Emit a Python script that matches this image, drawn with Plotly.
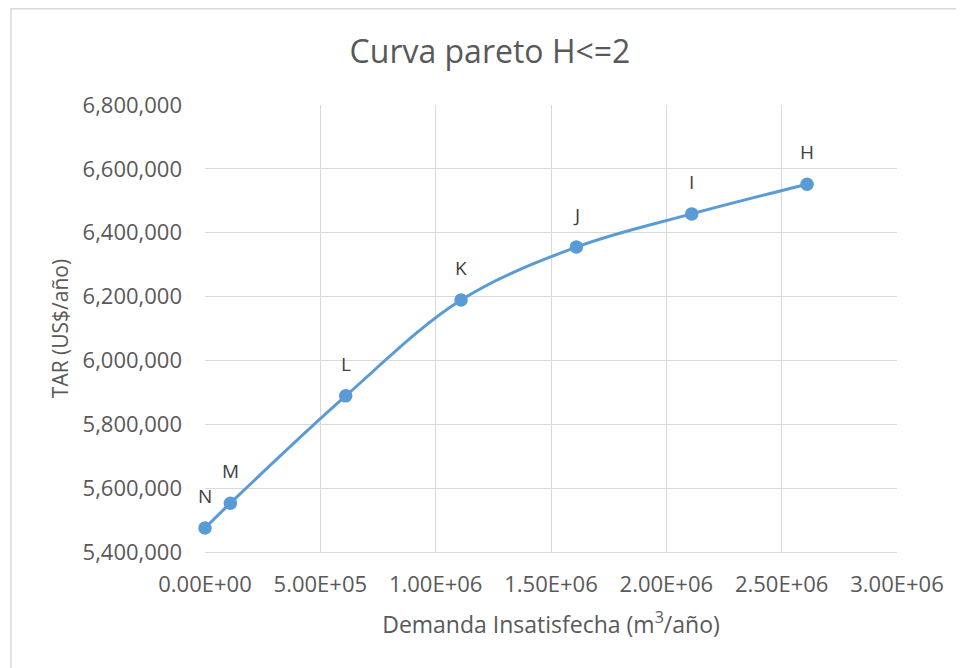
import plotly.graph_objects as go

# Data
labels = ["N", "M", "L", "K", "J", "I", "H"]
demanda = [0, 110000, 610000, 1110000, 1610000, 2110000, 2610000]
tar = [5475000, 5553000, 5889000, 6189000, 6355000, 6459000, 6552000]

x_tickvals = [0, 500000, 1000000, 1500000, 2000000, 2500000, 3000000]
x_ticktext = ["0.00E+00", "5.00E+05", "1.00E+06", "1.50E+06", "2.00E+06", "2.50E+06", "3.00E+06"]
y_tickvals = [5400000, 5600000, 5800000, 6000000, 6200000, 6400000, 6600000, 6800000]
y_ticktext = ["5,400,000", "5,600,000", "5,800,000", "6,000,000", "6,200,000", "6,400,000", "6,600,000", "6,800,000"]

FONT = "Open Sans"
GRAY = "#595959"
BLUE = "#5b9bd5"
GRID = "#d9d9d9"

W, H = 956, 660
ML, MT, PW, PH = 197, 97, 692, 447

fig = go.Figure()
fig.add_trace(go.Scatter(
    x=demanda, y=tar, mode="lines+markers",
    line=dict(color=BLUE, width=3, shape="spline", smoothing=1.0),
    marker=dict(color=BLUE, size=13.5),
    cliponaxis=False,
    hoverinfo="x+y", showlegend=False,
))

for lx, ly, lt in zip(demanda, tar, labels):
    fig.add_annotation(x=lx, y=ly, text=lt, showarrow=False, yshift=32,
                       font=dict(family=FONT, size=19, color="#404040"))

fig.update_layout(
    width=W, height=H,
    margin=dict(l=ML, r=W - ML - PW, t=MT, b=H - MT - PH, pad=0),
    paper_bgcolor="white", plot_bgcolor="white",
    title=dict(text="Curva pareto H<=2", x=482 / W, xref="container", xanchor="center",
               y=1 - 44 / H, yref="container", yanchor="middle",
               font=dict(family=FONT, size=32, color=GRAY)),
    font=dict(family=FONT, color=GRAY),
    xaxis=dict(range=[0, 3000000], tickvals=x_tickvals, ticktext=x_ticktext,
               showgrid=True, gridcolor=GRID, gridwidth=1.3, zeroline=False,
               showline=True, linecolor=GRID, linewidth=1.3, mirror=False,
               ticks="", ticklabelstandoff=12,
               tickfont=dict(family=FONT, size=22, color=GRAY),
               title=dict(text="Demanda Insatisfecha (m<sup>3</sup>/año)", standoff=20,
                          font=dict(family=FONT, size=23, color=GRAY))),
    yaxis=dict(range=[5400000, 6800000], tickvals=y_tickvals, ticktext=y_ticktext,
               showgrid=True, gridcolor=GRID, gridwidth=1.3, zeroline=False,
               showline=False, ticks="", ticklabelstandoff=22,
               tickfont=dict(family=FONT, size=22, color=GRAY),
               title=dict(text="TAR (US$/año)", standoff=8,
                          font=dict(family=FONT, size=21, color=GRAY))),
    shapes=[dict(type="rect", xref="paper", yref="paper",
                 x0=(3 - ML) / PW, x1=(990 - ML) / PW,
                 y0=-(700 - MT - PH) / PH, y1=1 + (MT - 0.75) / PH,
                 line=dict(color=GRID, width=1.5), fillcolor="rgba(0,0,0,0)", layer="below")],
)

fig.write_html("out.html")
